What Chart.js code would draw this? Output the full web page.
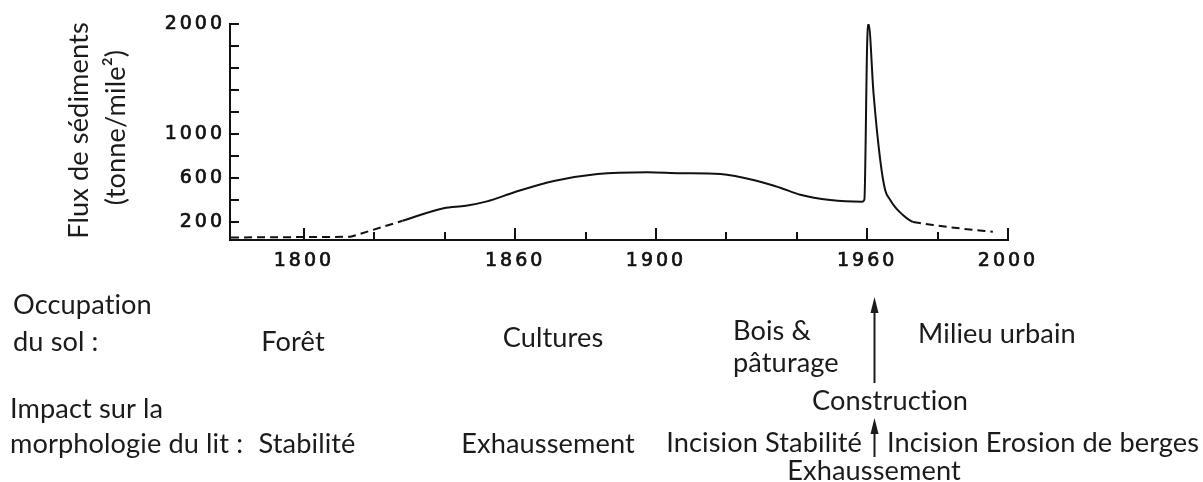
<!DOCTYPE html>
<html>
<head>
<meta charset="utf-8">
<script src="https://cdn.jsdelivr.net/npm/chart.js@4.4.1/dist/chart.umd.min.js"></script>
<style>
  html, body { margin: 0; padding: 0; background: #fff; }
  #wrap { width: 1203px; height: 482px; position: relative; }
</style>
</head>
<body>
<div id="wrap"><canvas id="flux"></canvas></div>
<script>
// Sediment yield (tonnes / sq. mile) against year, three pieces:
// dashed before 1828, solid through the construction spike, dashed after 1973
var earlyYears = [1779.3, 1813.3, 1828];
var earlyFlux  = [56, 62, 208];

var mainYears = [1828, 1839.7, 1846, 1852, 1860, 1871, 1883.4, 1897.6, 1907, 1918.3,
                 1929.6, 1935.3, 1941, 1949.5, 1958.6, 1959.2, 1960, 1960.4, 1961.8,
                 1963.7, 1965.1, 1966.5, 1968, 1970, 1971.5, 1973];
var mainFlux  = [208, 322, 345, 385, 470, 570, 634, 650, 641, 634,
                 564, 509, 445, 397, 382, 400, 1827, 2000, 1369,
                 762, 488, 400, 330, 265, 225, 197];

var lateYears = [1973, 1978.7, 1988.4, 1995.7];
var lateFlux  = [197, 170, 131, 109];

var xTicks  = [1800, 1820, 1840, 1860, 1880, 1900, 1920, 1940, 1960, 1980, 2000];
var xLabels = [1800, 1860, 1900, 1960, 2000];
var yTicks  = [200, 400, 600, 800, 1000, 1200, 1400, 1600, 1800, 2000];
var yLabels = [200, 600, 1000, 2000];

var ink = '#111';
var textInk = '#1b1b1b';

function points(xs, ys) {
  return xs.map(function(x, i) { return { x: x, y: ys[i] }; });
}

// text under the axis
var notes = [
  { t: 'Occupation', x: 13, y: 314, a: 'left' },
  { t: 'du sol :', x: 13, y: 351, a: 'left' },
  { t: 'Forêt', x: 293, y: 351, a: 'center' },
  { t: 'Cultures', x: 553, y: 347, a: 'center' },
  { t: 'Bois &', x: 733, y: 340, a: 'left' },
  { t: 'pâturage', x: 733, y: 372, a: 'left' },
  { t: 'Milieu urbain', x: 997, y: 343, a: 'center' },
  { t: 'Construction', x: 890, y: 410, a: 'center' },
  { t: 'Impact sur la', x: 10, y: 418, a: 'left' },
  { t: 'morphologie du lit :', x: 10, y: 453, a: 'left' },
  { t: 'Stabilité', x: 307, y: 453, a: 'center' },
  { t: 'Exhaussement', x: 548, y: 453, a: 'center' },
  { t: 'Incision Stabilité', x: 862, y: 452, a: 'right' },
  { t: 'Incision Erosion de berges', x: 887, y: 452, a: 'left' },
  { t: 'Exhaussement', x: 874, y: 480, a: 'center' }
];

// pick one font size so that a few strings come out at the given widths
function noteSize(ctx) {
  var spans = [['Occupation', 134], ['Construction', 154], ['Incision Erosion de berges', 310],
               ['morphologie du lit :', 237], ['Flux de sédiments', 215]];
  ctx.font = '100px Lato';
  var want = 0, got = 0;
  spans.forEach(function(s) { want += s[1]; got += ctx.measureText(s[0]).width; });
  return 100 * want / got;
}

function arrow(ctx, x, tipY, baseY) {
  ctx.beginPath();
  ctx.moveTo(x, baseY);
  ctx.lineTo(x, tipY + 10);
  ctx.stroke();
  ctx.beginPath();
  ctx.moveTo(x, tipY);
  ctx.lineTo(x - 4, tipY + 16);
  ctx.lineTo(x + 4, tipY + 16);
  ctx.closePath();
  ctx.fill();
}

var decor = {
  id: 'decor',
  beforeDraw: function(chart) {
    chart.ctx.letterSpacing = '3px';
  },
  afterDraw: function(chart) {
    var ctx = chart.ctx, area = chart.chartArea;
    var xs = chart.scales.x, ys = chart.scales.y;
    ctx.save();
    // a hair of spacing keeps "ti" from joining
    ctx.letterSpacing = '0.1px';

    // inward tick marks
    ctx.strokeStyle = ink;
    ctx.lineWidth = 2;
    yTicks.forEach(function(v) {
      var py = Math.round(ys.getPixelForValue(v));
      ctx.beginPath();
      ctx.moveTo(area.left, py);
      ctx.lineTo(area.left + 9, py);
      ctx.stroke();
    });
    xTicks.forEach(function(v) {
      var px = Math.round(xs.getPixelForValue(v));
      var len = xLabels.indexOf(v) >= 0 ? 12 : 8;
      ctx.beginPath();
      ctx.moveTo(px, area.bottom);
      ctx.lineTo(px, area.bottom - len);
      ctx.stroke();
    });

    var size = noteSize(ctx);
    ctx.font = size.toFixed(1) + 'px Lato';
    ctx.fillStyle = textInk;
    ctx.textBaseline = 'alphabetic';

    // y axis title, two rotated lines
    [['Flux de sédiments', 88, 130.5], ['(tonne/mile²)', 125, 127.5]].forEach(function(l) {
      ctx.save();
      ctx.translate(l[1], l[2]);
      ctx.rotate(-Math.PI / 2);
      ctx.textAlign = 'center';
      ctx.fillText(l[0], 0, 0);
      ctx.restore();
    });

    notes.forEach(function(n) {
      ctx.textAlign = n.a;
      ctx.fillText(n.t, n.x, n.y);
    });

    // arrows at the start of construction
    var ax = Math.round(xs.getPixelForValue(1962)) + 0.5;
    ctx.strokeStyle = textInk;
    ctx.lineWidth = 2;
    arrow(ctx, ax, 297, 383);
    arrow(ctx, ax, 418, 457);

    ctx.restore();
  }
};

var tickFont = { family: 'DejaVu Sans', size: 19 };

new Chart(document.getElementById('flux'), {
  type: 'line',
  data: {
    datasets: [
      { data: points(earlyYears, earlyFlux), borderDash: [8, 5] },
      { data: points(mainYears, mainFlux), cubicInterpolationMode: 'monotone' },
      { data: points(lateYears, lateFlux), borderDash: [8, 5], cubicInterpolationMode: 'monotone' }
    ]
  },
  options: {
    responsive: true,
    maintainAspectRatio: false,
    animation: false,
    events: [],
    layout: { padding: { top: 24, right: 195, bottom: 0, left: 0 } },
    plugins: { legend: { display: false }, tooltip: { enabled: false } },
    elements: {
      point: { radius: 0 },
      line: { borderColor: ink, borderWidth: 2, fill: false }
    },
    scales: {
      x: {
        type: 'linear',
        min: 1779,
        max: 2000,
        grid: { display: false, drawTicks: false, tickLength: 0 },
        border: { display: true, color: ink, width: 2 },
        afterFit: function(s) { s.height = 242; },
        afterBuildTicks: function(s) { s.ticks = xTicks.map(function(v) { return { value: v }; }); },
        ticks: {
          autoSkip: false,
          maxRotation: 0,
          padding: 10,
          color: ink,
          textStrokeColor: ink,
          textStrokeWidth: 0.7,
          font: tickFont,
          callback: function(v) { return xLabels.indexOf(v) >= 0 ? String(v) : ''; }
        }
      },
      y: {
        min: 33,
        max: 2000,
        grid: { display: false, drawTicks: false, tickLength: 0 },
        border: { display: true, color: ink, width: 2 },
        afterFit: function(s) { s.width = 230; },
        afterBuildTicks: function(s) { s.ticks = yTicks.map(function(v) { return { value: v }; }); },
        ticks: {
          autoSkip: false,
          padding: 5,
          color: ink,
          textStrokeColor: ink,
          textStrokeWidth: 0.7,
          font: tickFont,
          callback: function(v) { return yLabels.indexOf(v) >= 0 ? String(v) : ''; }
        }
      }
    }
  },
  plugins: [decor]
});
</script>
</body>
</html>
